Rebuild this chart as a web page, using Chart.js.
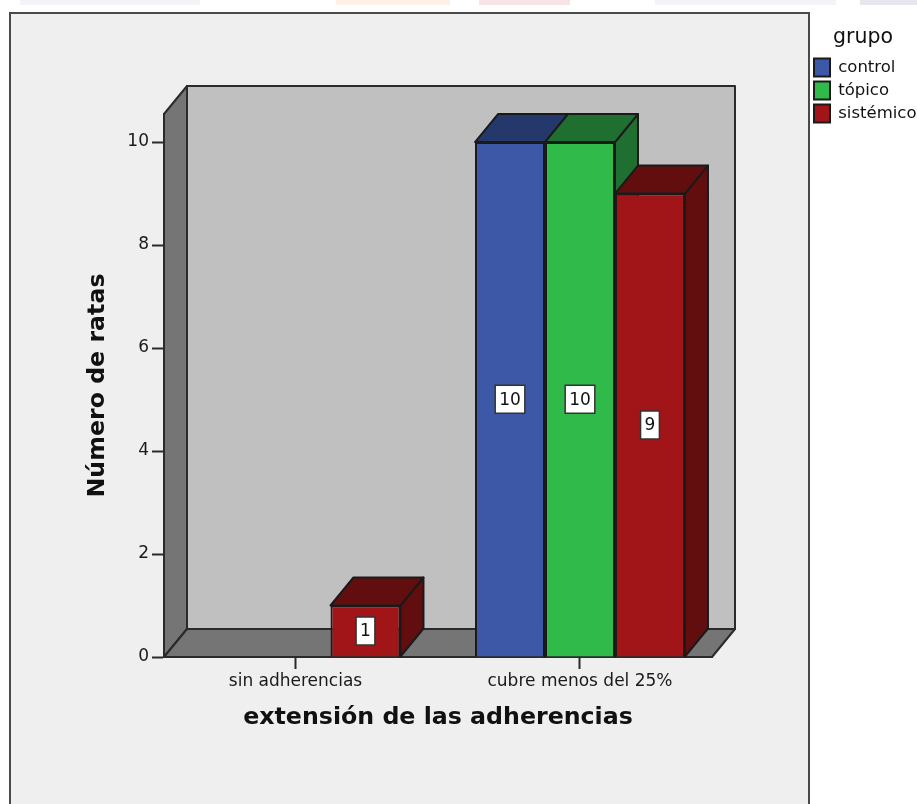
<!DOCTYPE html>
<html lang="es">
<head>
<meta charset="utf-8">
<title>Extensión de las adherencias</title>
<style>
  html, body { margin: 0; padding: 0; background: #fff; }
  #wrap { position: relative; width: 917px; height: 804px; overflow: hidden; }
  canvas { position: absolute; left: 0; top: 0; }
  .strip { position: absolute; top: 0; height: 5px; }
</style>
<script src="https://cdn.jsdelivr.net/npm/chart.js@4"></script>
</head>
<body>
<div id="wrap">
  <div class="strip" style="left:20px;width:180px;background:#f3f4f7"></div>
  <div class="strip" style="left:336px;width:114px;background:#fff1e6"></div>
  <div class="strip" style="left:479px;width:91px;background:#f8e3e5"></div>
  <div class="strip" style="left:655px;width:181px;background:#f3f4f7"></div>
  <div class="strip" style="left:860px;width:57px;background:#e7e5ed"></div>
  <canvas id="chart" width="917" height="804"></canvas>
</div>
<script>
const categories = ['sin adherencias', 'cubre menos del 25%'];
const groups = ['control', 'tópico', 'sistémico'];
const control = [null, 10];
const topico = [null, 10];
const sistemico = [1, 9];
const yTicks = [0, 2, 4, 6, 8, 10];

const xTitle = 'extensión de las adherencias';
const yTitle = 'Número de ratas';
const legendTitle = 'grupo';

const FONT = '"DejaVu Sans", sans-serif';
const INK = '#2a2a2a';
const DEPTH_X = 23;
const DEPTH_Y = 28;

const palette = [
  { front: '#3e58a8', shade: '#25386b' },
  { front: '#2fba4a', shade: '#1f6f30' },
  { front: '#a11518', shade: '#620e0f' }
];

function polygon(ctx, pts, fill, stroke, width) {
  ctx.beginPath();
  pts.forEach((p, i) => (i ? ctx.lineTo(p[0], p[1]) : ctx.moveTo(p[0], p[1])));
  ctx.closePath();
  ctx.fillStyle = fill;
  ctx.fill();
  ctx.lineJoin = 'round';
  ctx.strokeStyle = stroke;
  ctx.lineWidth = width;
  ctx.stroke();
}

// Grey panel plus the back wall, side wall and floor of the 3D box.
const framePlugin = {
  id: 'frame',
  beforeDraw(chart) {
    const { ctx } = chart;
    const { left, right, top, bottom } = chart.chartArea;
    ctx.save();
    ctx.fillStyle = '#efefef';
    ctx.strokeStyle = '#4a4a4a';
    ctx.lineWidth = 2;
    ctx.fillRect(10, 13, 799, 800);
    ctx.strokeRect(10, 13, 799, 800);
    polygon(ctx, [[left + DEPTH_X, top - DEPTH_Y], [right + DEPTH_X, top - DEPTH_Y],
      [right + DEPTH_X, bottom - DEPTH_Y], [left + DEPTH_X, bottom - DEPTH_Y]], '#c0c0c0', INK, 2);
    polygon(ctx, [[left, top], [left + DEPTH_X, top - DEPTH_Y],
      [left + DEPTH_X, bottom - DEPTH_Y], [left, bottom]], '#757575', INK, 2);
    polygon(ctx, [[left, bottom], [left + DEPTH_X, bottom - DEPTH_Y],
      [right + DEPTH_X, bottom - DEPTH_Y], [right, bottom]], '#757575', INK, 2);
    ctx.restore();
  }
};

// Top and side faces of each bar, taken from the bar elements the library placed.
const extrudePlugin = {
  id: 'extrude',
  beforeDatasetsDraw(chart) {
    const { ctx } = chart;
    ctx.save();
    chart.data.datasets.forEach((ds, d) => {
      chart.getDatasetMeta(d).data.forEach((bar, i) => {
        if (ds.data[i].y === null) return;
        const { x, y, base, width } = bar.getProps(['x', 'y', 'base', 'width'], true);
        const l = x - width / 2;
        const r = x + width / 2;
        polygon(ctx, [[r, y], [r + DEPTH_X, y - DEPTH_Y], [r + DEPTH_X, base - DEPTH_Y], [r, base]],
          palette[d].shade, '#1a1a1a', 2);
        polygon(ctx, [[l, y], [l + DEPTH_X, y - DEPTH_Y], [r + DEPTH_X, y - DEPTH_Y], [r, y]],
          palette[d].shade, '#1a1a1a', 2);
      });
    });
    ctx.restore();
  }
};

// White value tags centred on the front face of each bar.
const valueTagPlugin = {
  id: 'valueTags',
  afterDatasetsDraw(chart) {
    const { ctx } = chart;
    ctx.save();
    ctx.font = '17px ' + FONT;
    ctx.textAlign = 'center';
    ctx.textBaseline = 'middle';
    chart.data.datasets.forEach((ds, d) => {
      chart.getDatasetMeta(d).data.forEach((bar, i) => {
        const value = ds.data[i].y;
        if (value === null) return;
        const { x, y, base } = bar.getProps(['x', 'y', 'base'], true);
        const cy = (y + base) / 2;
        const text = String(value);
        const w = ctx.measureText(text).width + 8;
        const h = 28;
        ctx.fillStyle = '#fff';
        ctx.strokeStyle = '#333';
        ctx.lineWidth = 1.5;
        ctx.fillRect(x - w / 2, cy - h / 2, w, h);
        ctx.strokeRect(x - w / 2, cy - h / 2, w, h);
        ctx.fillStyle = '#111';
        ctx.fillText(text, x, cy + 1);
      });
    });
    ctx.restore();
  }
};

// Legend sits in the margin to the right of the box, clear of the plot width.
const legendPlacePlugin = {
  id: 'legendPlace',
  beforeLayout(chart) {
    const legend = chart.legend;
    if (!legend.__fitted) {
      const fit = legend.fit;
      legend.fit = function () { fit.call(this); this.width = 205; };
      legend.__fitted = true;
    }
  },
  afterLayout(chart) {
    const legend = chart.legend;
    const shift = 809 - legend.left;
    legend.left += shift;
    legend.right = 917;
    legend.width = 108;
    legend.top = 23;
    legend.legendHitBoxes.forEach(b => { b.left += shift; });
  }
};

const toSeries = values => values.map((y, x) => ({ x, y }));
const seriesValues = [control, topico, sistemico];

new Chart(document.getElementById('chart'), {
  type: 'bar',
  data: {
    datasets: groups.map((label, d) => ({
      label,
      data: toSeries(seriesValues[d]),
      backgroundColor: palette[d].front,
      borderColor: '#1a1a1a',
      borderWidth: 2,
      categoryPercentage: 0.738,
      barPercentage: 1
    }))
  },
  options: {
    responsive: false,
    animation: false,
    layout: { padding: { left: 84, top: 114, right: 0, bottom: 72 } },
    scales: {
      x: {
        type: 'linear',
        offset: false,
        min: -0.4622,
        max: 1.464,
        grid: { offset: false, drawOnChartArea: false, drawTicks: true, tickLength: 12, tickColor: INK, tickWidth: 2 },
        border: { display: true, color: INK, width: 2 },
        ticks: {
          stepSize: 1,
          padding: 2,
          maxRotation: 0,
          autoSkip: false,
          color: '#1a1a1a',
          font: { family: FONT, size: 17 },
          callback: v => categories[v]
        },
        afterBuildTicks(axis) { axis.ticks = categories.map((_, value) => ({ value })); },
        afterFit(axis) { axis.height = 75; },
        title: {
          display: true,
          text: xTitle,
          color: '#111',
          padding: 0,
          font: { family: FONT, size: 23.7, weight: 'bold' }
        }
      },
      y: {
        min: 0,
        max: 10.544,
        grid: { drawOnChartArea: false, drawTicks: true, tickLength: 12, tickColor: INK, tickWidth: 2 },
        border: { display: true, color: INK, width: 2 },
        ticks: {
          stepSize: 2,
          padding: 3,
          color: '#1a1a1a',
          font: { family: FONT, size: 17 }
        },
        afterBuildTicks(axis) { axis.ticks = yTicks.map(value => ({ value })); },
        afterFit(axis) { axis.width = 80; },
        title: {
          display: true,
          text: yTitle,
          color: '#111',
          padding: 0,
          font: { family: FONT, size: 23.7, weight: 'bold' }
        }
      }
    },
    plugins: {
      tooltip: { enabled: false },
      legend: {
        position: 'right',
        align: 'start',
        title: {
          display: true,
          text: legendTitle,
          position: 'center',
          color: '#111',
          padding: { top: 4, bottom: 2 },
          font: { family: FONT, size: 20.5 }
        },
        labels: {
          boxWidth: 16,
          boxHeight: 18,
          padding: 5,
          color: '#111',
          font: { family: FONT, size: 16.5 }
        }
      }
    }
  },
  plugins: [framePlugin, extrudePlugin, valueTagPlugin, legendPlacePlugin]
});
</script>
</body>
</html>
